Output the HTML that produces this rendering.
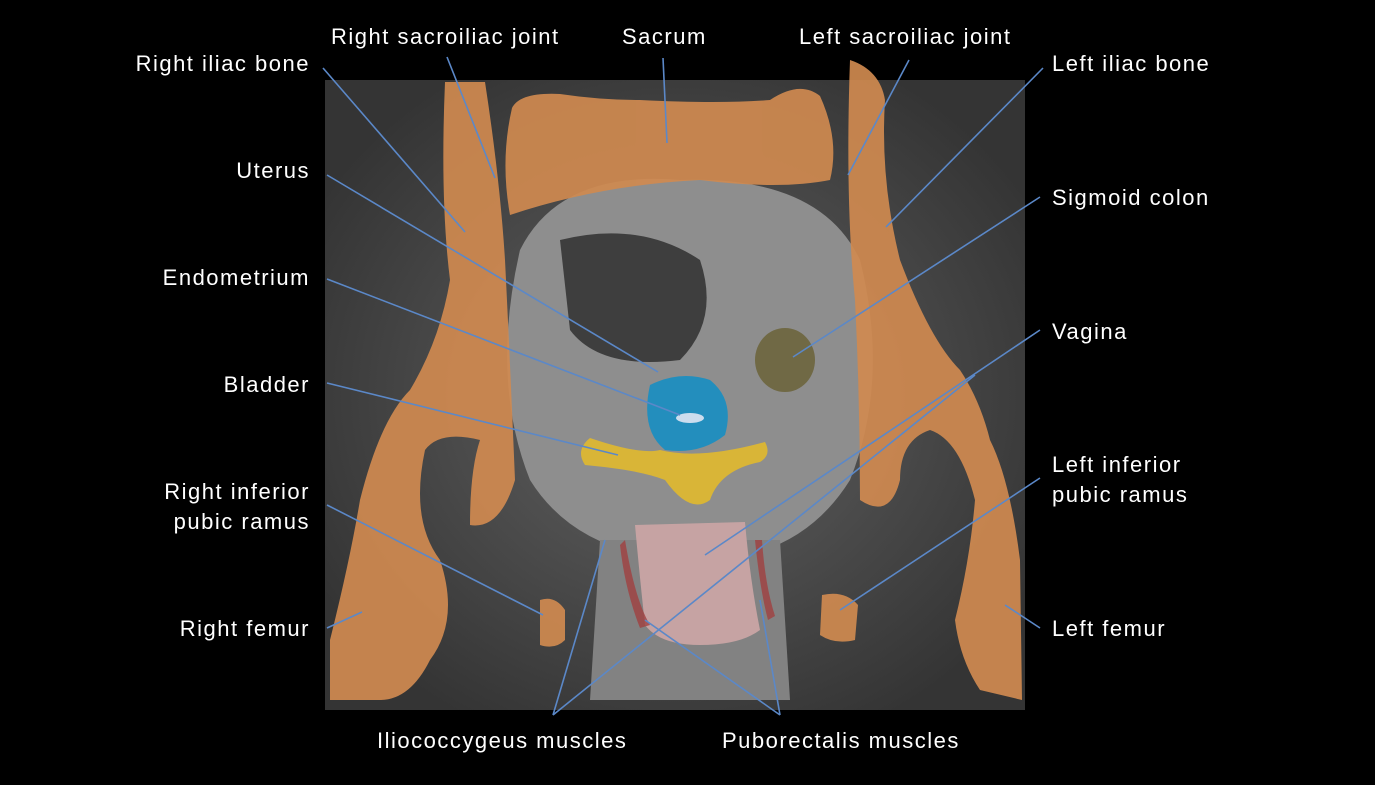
<!DOCTYPE html>
<html><head><meta charset="utf-8"><style>
html,body{margin:0;padding:0;background:#000;}
body{width:1375px;height:785px;position:relative;overflow:hidden;font-family:"Liberation Sans",sans-serif;}
.l{position:absolute;color:#fff;font-size:22px;line-height:30px;white-space:nowrap;letter-spacing:1.5px;}
.r{text-align:right;}
</style></head><body>
<svg width="1375" height="785" style="position:absolute;left:0;top:0">
<defs>
<radialGradient id="g" cx="50%" cy="50%" r="60%"><stop offset="0" stop-color="#8a8a8a"/><stop offset="1" stop-color="#3a3a3a"/></radialGradient>
</defs>
<rect x="325" y="80" width="700" height="630" fill="#2a2a2a"/>
<rect x="325" y="80" width="700" height="630" fill="url(#g)" opacity="0.6"/>
<path d="M520,250 Q560,170 680,180 Q820,175 860,260 Q890,380 850,480 Q800,560 700,560 Q580,560 530,480 Q490,380 520,250Z" fill="#8e8e8e"/>
<path d="M560,240 Q640,220 700,260 Q720,320 680,360 Q600,370 570,330 Z" fill="#3e3e3e"/>
<path d="M600,540 L780,540 L790,700 L590,700Z" fill="#828282"/>
<g fill="#d08a50" opacity="0.92">
<path d="M512,108 Q520,92 560,94 Q600,100 640,100 Q720,104 770,100 Q800,80 820,96 Q840,140 830,180 Q780,190 700,180 Q600,185 510,215 Q500,160 512,108Z"/>
<path d="M445,82 L485,82 Q500,180 505,260 Q510,360 515,480 Q500,530 470,525 Q470,470 480,440 Q440,430 425,450 Q410,520 440,560 Q460,620 430,660 Q410,700 380,700 L330,700 L330,640 Q350,560 360,500 Q380,420 410,390 Q440,340 450,280 Q440,200 445,82Z"/>
<path d="M850,60 Q880,70 885,100 Q880,180 900,260 Q930,340 960,370 Q980,400 990,440 Q1010,480 1020,560 L1022,700 L980,690 Q960,660 955,620 Q970,560 975,500 Q960,440 930,430 Q900,440 900,480 Q890,520 860,500 Q860,400 855,300 Q845,200 850,60Z"/>
<path d="M540,600 Q555,595 565,610 L565,640 Q555,650 540,645Z"/>
<path d="M822,595 Q845,590 858,605 L855,640 Q835,645 820,635Z"/>
</g>
<path d="M590,438 Q640,455 660,450 Q700,460 765,442 Q772,455 760,462 Q720,470 710,500 Q690,515 665,480 Q640,470 585,465 Q575,450 590,438Z" fill="#e0b830" opacity="0.92"/>
<path d="M650,385 Q680,370 710,380 Q735,400 725,435 Q700,455 665,450 Q640,430 650,385Z" fill="#1e8ec0" opacity="0.95"/>
<ellipse cx="690" cy="418" rx="14" ry="5" fill="#cde"/>
<ellipse cx="785" cy="360" rx="30" ry="32" fill="#6b6338" opacity="0.85"/>
<path d="M635,525 L745,522 Q750,580 760,630 Q740,645 700,645 Q660,645 645,625 Q640,580 635,525Z" fill="#c9a4a4" opacity="0.95"/>
<path d="M625,540 Q635,600 650,625 L640,628 Q625,590 620,545Z" fill="#a04040" opacity="0.8"/>
<path d="M755,540 Q760,590 768,620 L775,616 Q765,585 762,540Z" fill="#a04040" opacity="0.8"/>
<g stroke="#5b88c8" stroke-width="1.6" fill="none">
<line x1="323" y1="68" x2="465" y2="232"/>
<line x1="447" y1="57" x2="495" y2="178"/>
<line x1="663" y1="58" x2="667" y2="143"/>
<line x1="909" y1="60" x2="848" y2="175"/>
<line x1="1043" y1="68" x2="886" y2="227"/>
<line x1="327" y1="175" x2="658" y2="372"/>
<line x1="1040" y1="197" x2="793" y2="357"/>
<line x1="327" y1="279" x2="680" y2="415"/>
<line x1="1040" y1="330" x2="705" y2="555"/>
<line x1="327" y1="383" x2="618" y2="455"/>
<line x1="327" y1="505" x2="543" y2="615"/>
<line x1="327" y1="628" x2="362" y2="612"/>
<line x1="1040" y1="478" x2="840" y2="610"/>
<line x1="1040" y1="628" x2="1005" y2="605"/>
<line x1="553" y1="715" x2="605" y2="540"/>
<line x1="553" y1="715" x2="975" y2="375"/>
<line x1="780" y1="715" x2="645" y2="620"/>
<line x1="780" y1="715" x2="760" y2="600"/>
</g>
</svg>
<div class="l r" style="right:1065px;top:49px">Right iliac bone</div>
<div class="l" style="left:331px;top:22px">Right sacroiliac joint</div>
<div class="l" style="left:622px;top:22px">Sacrum</div>
<div class="l" style="left:799px;top:22px">Left sacroiliac joint</div>
<div class="l" style="left:1052px;top:49px">Left iliac bone</div>
<div class="l r" style="right:1065px;top:156px">Uterus</div>
<div class="l" style="left:1052px;top:183px">Sigmoid colon</div>
<div class="l r" style="right:1065px;top:263px">Endometrium</div>
<div class="l" style="left:1052px;top:317px">Vagina</div>
<div class="l r" style="right:1065px;top:370px">Bladder</div>
<div class="l r" style="right:1065px;top:477px">Right inferior<br>pubic ramus</div>
<div class="l" style="left:1052px;top:450px">Left inferior<br>pubic ramus</div>
<div class="l r" style="right:1065px;top:614px">Right femur</div>
<div class="l" style="left:1052px;top:614px">Left femur</div>
<div class="l" style="left:377px;top:726px">Iliococcygeus muscles</div>
<div class="l" style="left:722px;top:726px">Puborectalis muscles</div>
</body></html>
